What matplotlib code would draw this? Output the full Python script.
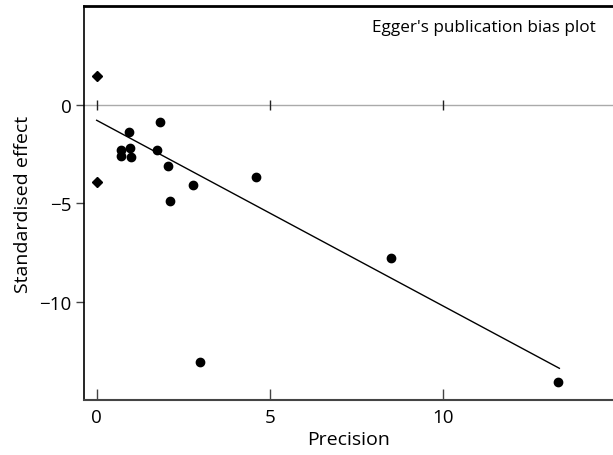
import numpy as np
import matplotlib.pyplot as plt

plt.rcParams['font.family'] = ['Open Sans', 'DejaVu Sans']

# study points (precision, standardised effect)
precision = [0.93, 1.83, 0.69, 0.70, 0.96, 0.99, 1.75, 2.07, 2.79, 4.60, 2.13, 8.51, 13.34, 2.99]
std_effect = [-1.41, -0.90, -2.29, -2.60, -2.22, -2.68, -2.29, -3.11, -4.09, -3.66, -4.88, -7.79, -14.10, -13.09]

# intercept estimate with its confidence limits, drawn at precision 0
ci_x = [0, 0]
ci_y = [1.46, -3.95]

# regression line end points
fit_x = [0, 13.37]
fit_y = [-0.79, -13.39]

xticks = [0, 5, 10]
yticks = [0, -5, -10]

fig = plt.figure(figsize=(6.13, 4.56), dpi=100)
ax = fig.add_axes([84 / 613, 55 / 456, 529 / 613, 393.7 / 456])

ax.axhline(0, color='#aaaaaa', lw=1.0, zorder=1)
ax.plot(xticks, [0] * len(xticks), ls='none', marker='|', ms=7, mew=1.0, color='#222222', zorder=2)

ax.plot(fit_x, fit_y, color='black', lw=1.0, zorder=3)
ax.plot(precision, std_effect, ls='none', marker='o', ms=6, color='black', zorder=4)
ax.plot(ci_x, ci_y, ls='none', marker='D', ms=5, color='black', zorder=4)

ax.set_xlim(-0.366, 14.92)
ax.set_ylim(-15, 5)
ax.set_xticks(xticks)
ax.set_yticks(yticks)
ax.set_yticklabels(['0', '\u22125', '\u221210'])

ax.spines['right'].set_visible(False)
ax.spines['top'].set_linewidth(2.0)
ax.spines['top'].set_color('black')
ax.spines['left'].set_linewidth(1.2)
ax.spines['left'].set_color('black')
ax.spines['bottom'].set_linewidth(1.5)
ax.spines['bottom'].set_color('#444444')

ax.tick_params(axis='x', direction='in', length=8, width=1.0, color='#444444',
               labelsize=13.5, pad=6)
ax.tick_params(axis='y', direction='out', length=6, width=1.0, color='#444444',
               labelsize=13.5, pad=3)

ax.set_xlabel('Precision', fontsize=14, labelpad=3)
ax.set_ylabel('Standardised effect', fontsize=14, labelpad=5)

ax.text(0.968, 0.948, "Egger's publication bias plot", transform=ax.transAxes,
        ha='right', va='center', fontsize=12.3)

fig.savefig('out.png', dpi=100)
